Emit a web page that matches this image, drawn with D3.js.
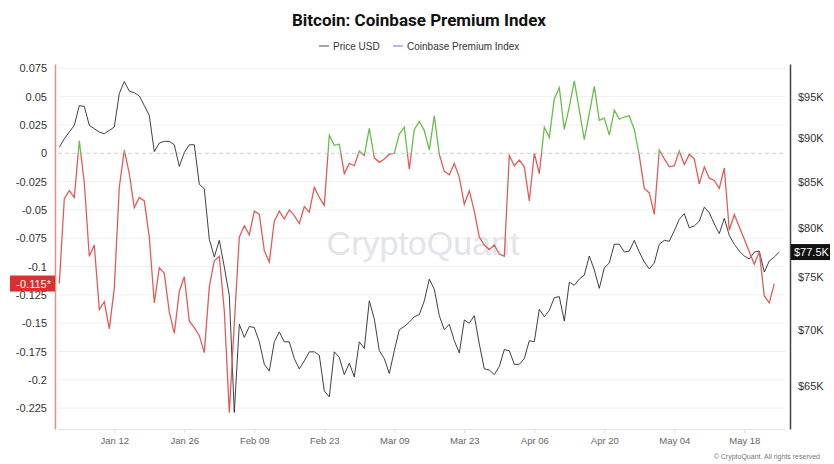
<!DOCTYPE html>
<html>
<head>
<meta charset="utf-8">
<script src="https://cdn.jsdelivr.net/npm/d3@7"></script>
<style>
  body { margin: 0; background: #fff; }
  svg { display: block; font-family: "Liberation Sans", Arial, sans-serif; }
</style>
</head>
<body>
<div id="chart"></div>
<script>
// first day of both series, one value per day after that
const startDate = new Date(2026, 0, 1);

// Coinbase Premium Index, daily
const premium = [
  -0.115, -0.040, -0.033, -0.039, 0.011, -0.026, -0.091, -0.081, -0.138, -0.131,
  -0.155, -0.119, -0.030, 0.003, -0.018, -0.048, -0.039, -0.042, -0.074, -0.132,
  -0.101, -0.106, -0.140, -0.159, -0.122, -0.109, -0.148, -0.154, -0.161, -0.176,
  -0.118, -0.095, -0.091, -0.139, -0.229, -0.150, -0.074, -0.064, -0.072, -0.051,
  -0.054, -0.086, -0.096, -0.060, -0.051, -0.058, -0.050, -0.055, -0.062, -0.047,
  -0.052, -0.030, -0.039, -0.046, 0.016, 0.007, 0.008, -0.018, -0.009, -0.011,
  0.002, -0.002, 0.022, -0.004, -0.008, -0.005, -0.001, 0.000, 0.017, 0.023,
  -0.014, 0.021, 0.028, 0.020, 0.003, 0.033, -0.001, -0.016, -0.019, -0.009,
  -0.021, -0.045, -0.033, -0.051, -0.074, -0.081, -0.085, -0.081, -0.089, -0.091,
  -0.002, -0.011, -0.006, -0.012, -0.042, 0.000, -0.018, 0.023, 0.014, 0.048,
  0.058, 0.021, 0.041, 0.064, 0.038, 0.012, 0.035, 0.059, 0.029, 0.031,
  0.016, 0.038, 0.030, 0.032, 0.033, 0.021, -0.002, -0.031, -0.035, -0.054,
  0.003, -0.005, -0.012, -0.011, 0.002, -0.010, -0.001, -0.005, -0.027, -0.012,
  -0.022, -0.024, -0.031, -0.013, -0.068, -0.054, -0.065, -0.076, -0.087, -0.098,
  -0.087, -0.126, -0.132, -0.115
];

// BTC price in USD, daily
const price = [
  88900, 89900, 90700, 91500, 93900, 93800, 91500, 91100, 90700, 90500,
  90900, 91300, 95400, 96900, 95700, 95500, 95100, 93900, 92700, 88400,
  89400, 89600, 89600, 89200, 86700, 88300, 89200, 89200, 84700, 84200,
  78800, 77000, 78700, 76000, 73200, 62800, 70500, 69300, 70300, 70200,
  68900, 66900, 66300, 68900, 69800, 68900, 68900, 67400, 66500, 67200,
  68000, 68000, 67700, 64600, 64100, 68000, 67500, 66000, 67000, 65800,
  68900, 68300, 72700, 71000, 68100, 67400, 66100, 68100, 70000, 70300,
  70700, 71200, 71400, 72700, 74800, 73800, 71300, 70000, 70500, 69000,
  67900, 70900, 70600, 71300, 68700, 66500, 66400, 66000, 66700, 68200,
  68100, 66900, 66900, 67400, 69000, 68900, 71900, 71200, 71800, 73000,
  73100, 70800, 74500, 74200, 74800, 75200, 77100, 75700, 73900, 75900,
  76400, 78300, 78300, 77500, 77600, 78700, 77500, 76500, 75800, 76400,
  78300, 78700, 78600, 79700, 80900, 81500, 80000, 80200, 80700, 82200,
  81600, 80400, 79400, 81000, 79200, 78300, 77600, 77100, 76800, 77500,
  77600, 75500, 76600, 77000, 77500
];

const leftTicks = [0.075, 0.05, 0.025, 0, -0.025, -0.05, -0.075, -0.1, -0.125, -0.15, -0.175, -0.2, -0.225];
const rightTicks = [95000, 90000, 85000, 80000, 75000, 70000, 65000];
const xTicks = ["2026-01-12", "2026-01-26", "2026-02-09", "2026-02-23", "2026-03-09",
                "2026-03-23", "2026-04-06", "2026-04-20", "2026-05-04", "2026-05-18"];

const width = 834, height = 464;
const plot = {left: 58, right: 785, top: 64, bottom: 429};

const premiumData = premium.map((v, i) => ({date: d3.timeDay.offset(startDate, i), value: v}));
const priceData = price.map((v, i) => ({date: d3.timeDay.offset(startDate, i), value: v}));
const lastPremium = premium[premium.length - 1];
const lastPrice = price[price.length - 1];

const svg = d3.select("#chart").append("svg")
    .attr("width", width)
    .attr("height", height);

const xScale = d3.scaleTime()
    .domain([startDate, d3.timeDay.offset(startDate, 145)])
    .range([plot.left + 1.3, plot.left + 1.3 + 725]);

const yLeft = d3.scaleLinear()
    .domain([-0.2434, 0.0788])
    .range([plot.bottom, plot.top]);

const yRight = d3.scaleLog()
    .domain([61460, 99160])
    .range([plot.bottom, plot.top]);

// title and legend
svg.append("text")
    .attr("x", 419).attr("y", 26)
    .attr("text-anchor", "middle")
    .attr("font-family", "Roboto, sans-serif")
    .attr("font-weight", 700)
    .attr("font-size", 17)
    .attr("fill", "#111")
    .text("Bitcoin: Coinbase Premium Index");

const legend = svg.append("g").attr("transform", "translate(0,46)");
legend.append("line").attr("x1", 319).attr("x2", 329).attr("y1", 0).attr("y2", 0)
    .attr("stroke", "#666").attr("stroke-width", 1.2);
legend.append("text").attr("x", 333).attr("y", 3.5).attr("font-size", 10).attr("fill", "#333").text("Price USD");
legend.append("line").attr("x1", 393).attr("x2", 403).attr("y1", 0).attr("y2", 0)
    .attr("stroke", "#8a86e6").attr("stroke-width", 1.2);
legend.append("text").attr("x", 407).attr("y", 3.5).attr("font-size", 10).attr("fill", "#333").text("Coinbase Premium Index");

// gridlines
svg.append("g")
    .selectAll("line")
    .data(leftTicks.filter(d => d !== 0))
    .join("line")
    .attr("x1", plot.left).attr("x2", plot.right)
    .attr("y1", d => yLeft(d)).attr("y2", d => yLeft(d))
    .attr("stroke", "#efefef");

svg.append("line")
    .attr("x1", plot.left).attr("x2", plot.right)
    .attr("y1", yLeft(0)).attr("y2", yLeft(0))
    .attr("stroke", "#cfcfcf")
    .attr("stroke-dasharray", "4,3");

// watermark
svg.append("text")
    .attr("x", 423).attr("y", 255)
    .attr("text-anchor", "middle")
    .attr("font-size", 34)
    .attr("fill", "#e3e4ea")
    .text("CryptoQuant");

// x axis
const xAxis = d3.axisBottom(xScale)
    .tickValues(xTicks.map(d => d3.timeParse("%Y-%m-%d")(d)))
    .tickFormat(d3.timeFormat("%b %d"))
    .tickSize(4)
    .tickPadding(4);

const xAxisGroup = svg.append("g")
    .attr("transform", `translate(0,${plot.bottom})`)
    .call(xAxis);
xAxisGroup.select(".domain").remove();
xAxisGroup.selectAll(".tick line").attr("stroke", "#ddd");
xAxisGroup.selectAll(".tick text").attr("fill", "#666").attr("font-size", 9.5).attr("font-family", null);
svg.append("line")
    .attr("x1", plot.left).attr("x2", plot.right)
    .attr("y1", plot.bottom + 0.5).attr("y2", plot.bottom + 0.5)
    .attr("stroke", "#e2e2e2");

// left axis
const leftAxis = d3.axisLeft(yLeft)
    .tickValues(leftTicks)
    .tickFormat(d => String(+d.toFixed(3)))
    .tickSize(0)
    .tickPadding(8);
const leftGroup = svg.append("g")
    .attr("transform", "translate(55,0)")
    .call(leftAxis);
leftGroup.select(".domain").attr("stroke", "#e88a8a").attr("stroke-width", 1.5);
leftGroup.selectAll(".tick text").attr("fill", "#333").attr("font-size", 11).attr("font-family", null);

// right axis
const rightAxis = d3.axisRight(yRight)
    .tickValues(rightTicks)
    .tickFormat(d => "$" + d / 1000 + "K")
    .tickSize(0)
    .tickPadding(8);
const rightGroup = svg.append("g")
    .attr("transform", "translate(790,0)")
    .call(rightAxis);
rightGroup.select(".domain").attr("stroke", "#444").attr("stroke-width", 1.5);
rightGroup.selectAll(".tick text").attr("fill", "#333").attr("font-size", 11).attr("font-family", null);

// clip paths to split the premium line at zero
const defs = svg.append("defs");
defs.append("clipPath").attr("id", "above")
    .append("rect")
    .attr("x", 0).attr("y", 0)
    .attr("width", width).attr("height", yLeft(0));
defs.append("clipPath").attr("id", "below")
    .append("rect")
    .attr("x", 0).attr("y", yLeft(0))
    .attr("width", width).attr("height", height - yLeft(0));

// price line
const priceLine = d3.line()
    .x(d => xScale(d.date))
    .y(d => yRight(d.value));

svg.append("path")
    .datum(priceData)
    .attr("fill", "none")
    .attr("stroke", "#2a2a2a")
    .attr("stroke-width", 0.9)
    .attr("d", priceLine);

// premium line
const premiumLine = d3.line()
    .x(d => xScale(d.date))
    .y(d => yLeft(d.value));

svg.append("path")
    .datum(premiumData)
    .attr("clip-path", "url(#below)")
    .attr("fill", "none")
    .attr("stroke", "#e05c5c")
    .attr("stroke-width", 1.3)
    .attr("d", premiumLine);

svg.append("path")
    .datum(premiumData)
    .attr("clip-path", "url(#above)")
    .attr("fill", "none")
    .attr("stroke", "#68bd4c")
    .attr("stroke-width", 1.3)
    .attr("d", premiumLine);

// last value badges
const leftBadge = svg.append("g").attr("transform", `translate(0,${yLeft(lastPremium)})`);
leftBadge.append("rect")
    .attr("x", 10).attr("y", -8).attr("width", 45).attr("height", 16)
    .attr("fill", "#d8312f");
leftBadge.append("text")
    .attr("x", 51).attr("y", 4)
    .attr("text-anchor", "end")
    .attr("font-size", 11)
    .attr("fill", "#fff")
    .text(lastPremium + "*");

const rightBadge = svg.append("g").attr("transform", `translate(0,${yRight(lastPrice)})`);
rightBadge.append("rect")
    .attr("x", 791).attr("y", -8).attr("width", 39).attr("height", 16)
    .attr("fill", "#111");
rightBadge.append("text")
    .attr("x", 794).attr("y", 4)
    .attr("font-size", 11)
    .attr("fill", "#fff")
    .text("$" + lastPrice / 1000 + "K");

// footer
svg.append("text")
    .attr("x", 820).attr("y", 459)
    .attr("text-anchor", "end")
    .attr("font-size", 7)
    .attr("fill", "#777")
    .text("© CryptoQuant. All rights reserved");
</script>
</body>
</html>
